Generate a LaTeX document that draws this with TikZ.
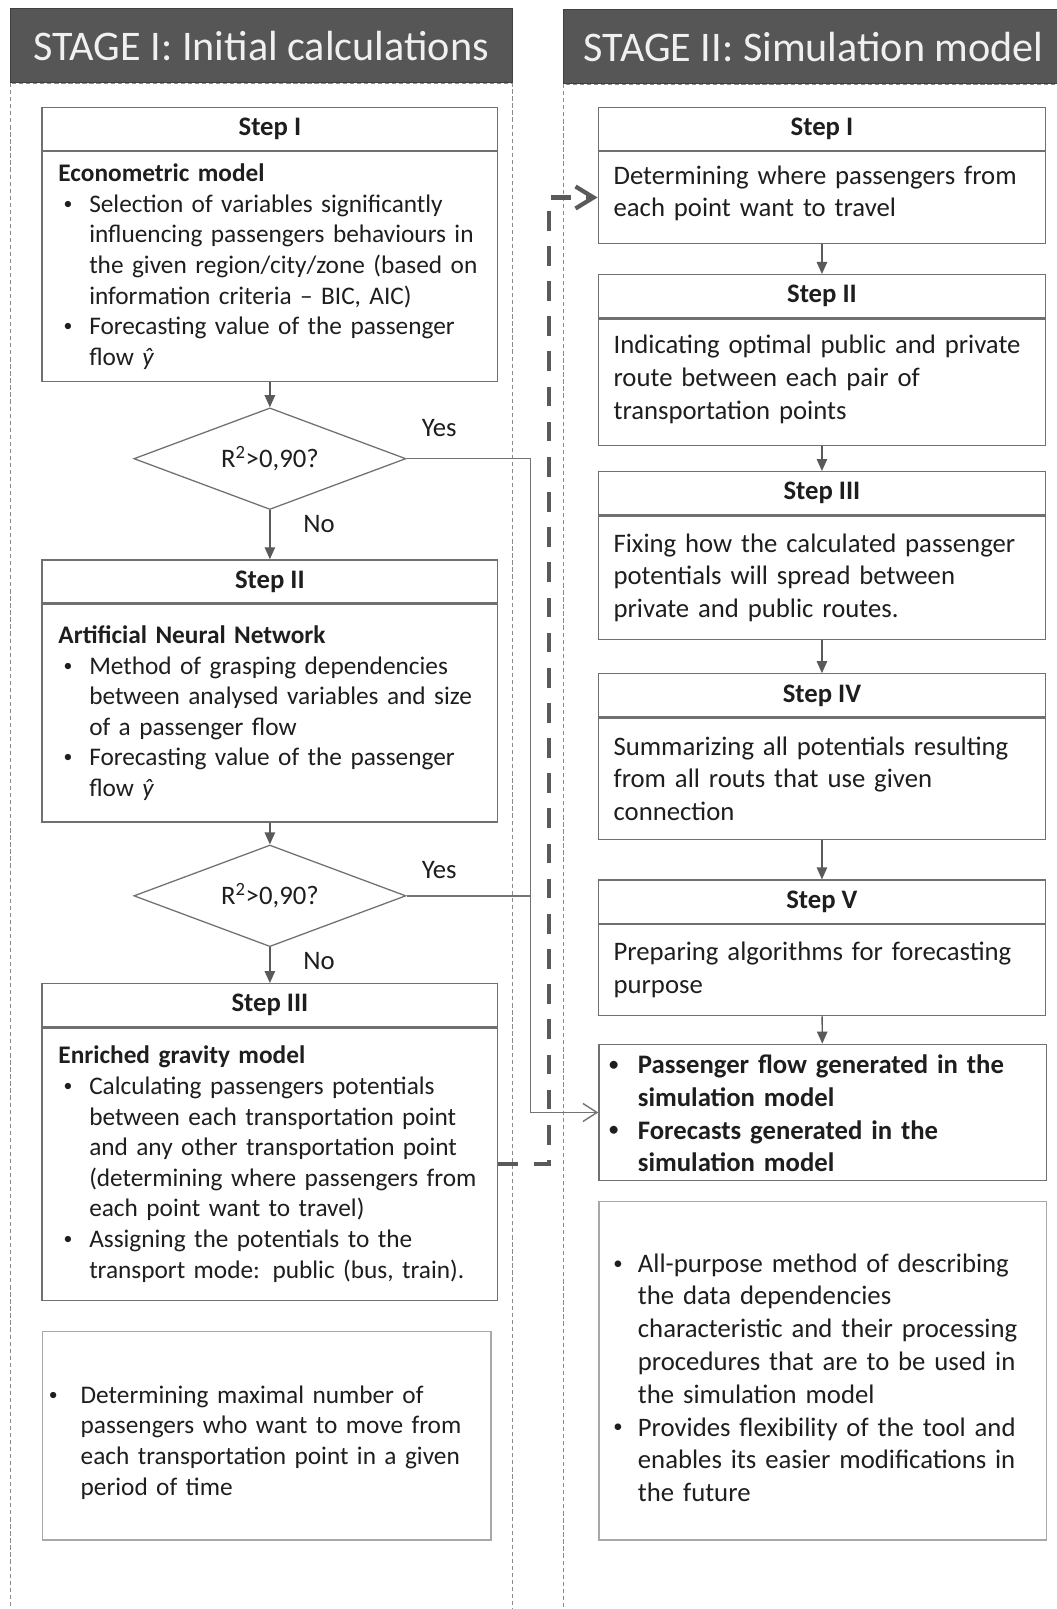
\documentclass[tikz,border=0pt]{standalone}
\usepackage{fontspec}
\setmainfont{Carlito}
\usetikzlibrary{shapes.geometric, positioning, arrows.meta}
\definecolor{headgray}{HTML}{565656}
\definecolor{boxgray}{HTML}{707070}
\definecolor{notegray}{HTML}{A8A8A8}
\definecolor{inkgray}{HTML}{1E1E1E}
\definecolor{arrowgray}{HTML}{5A5A5A}
\definecolor{colgray}{HTML}{8A8A8A}
\newcommand{\lfont}{\fontsize{18}{21.8}\selectfont}
\newcommand{\rfont}{\fontsize{19}{23.3}\selectfont}
\newcommand{\dotmark}{\raisebox{0.12em}{\scalebox{0.7}{\textbullet}}}
\newcommand{\bul}[2][0pt]{\par\hangindent=#2\hangafter=1\noindent\makebox[#2][l]{\hspace*{#1}\dotmark}}
\newcommand{\litem}{\bul[0.13cm]{0.77cm}}
\newcommand{\yhat}{{\itshape ŷ}}
\tikzstyle{stagehead} = [draw=black!75, fill=headgray, text=white!94!black, font=\fontsize{30}{35}\selectfont, minimum height=1.85cm, inner sep=0pt]
\tikzstyle{stagecol} = [draw=colgray, dash pattern=on 3pt off 2pt, line width=0.7pt]
\tikzstyle{steptitle} = [draw=boxgray, line width=0.9pt, fill=white, text=inkgray, font=\fontsize{19}{23}\selectfont\bfseries, minimum height=1.08cm, inner sep=0pt, anchor=north]
\tikzstyle{stepbody} = [draw=boxgray, line width=0.9pt, fill=white, text=inkgray, align=left, inner ysep=0pt]
\tikzstyle{lbody} = [stepbody, font=\lfont, inner xsep=0.41cm, text width=10.57cm]
\tikzstyle{rbody} = [stepbody, font=\rfont, inner xsep=0.385cm, text width=10.416cm]
\tikzstyle{notebox} = [draw=notegray, line width=0.9pt, fill=white, text=inkgray, align=left, inner ysep=0pt, anchor=north west]
\tikzstyle{decision} = [diamond, draw=boxgray, line width=0.9pt, text=inkgray, font=\rfont, aspect=2.7, minimum width=6.8cm, minimum height=2.54cm, inner sep=0pt]
\tikzstyle{lbl} = [text=inkgray, font=\rfont, inner sep=0pt]
\tikzstyle{flowarrow} = [draw=arrowgray, line width=1pt, -{Triangle[length=3mm, width=2.6mm]}]
\tikzstyle{yesline} = [draw=arrowgray!85, line width=1pt]
\tikzstyle{yesarrow} = [yesline, -{Straight Barb[length=3.5mm, width=4.5mm, line width=1pt]}]
\tikzstyle{linkarrow} = [draw=arrowgray, line width=3pt, dash pattern=on 14pt off 11pt, -{Straight Barb[length=4.5mm, width=5.5mm, line width=3pt]}]

\begin{document}
\begin{tikzpicture}[x=0.025655cm, y=-0.025655cm]
\useasboundingbox (0,0) rectangle (1030,1568);
\fill[white] (0,0) rectangle (1030,1568);
% stage columns
\draw[stagecol] (10,81) rectangle (499,1640);
\draw[stagecol] (549,82) rectangle (1070,1640);
\node[stagehead, minimum width=12.545cm] (stageI)  at (254.5,44.5) {STAGE I: Initial calculations};
\node[stagehead, minimum width=12.52cm]  (stageII) at (793,45.5)   {STAGE II: Simulation model};

% stage I
\node[steptitle, minimum width=11.39cm] (lstepI) at (263,104) {Step I};
\node[lbody, minimum height=5.747cm, below=0pt of lstepI] (lbodyI) {\noindent{\bfseries Econometric model}
\litem Selection of variables significantly\newline influencing passengers behaviours in\newline the given region/city/zone (based on\newline information criteria -- BIC, AIC)
\litem Forecasting value of the passenger\newline flow \yhat\par};
\node[decision] (lcheckI) at (263,447) {R\textsuperscript{2}>0,90?};
\node[lbl] (lyesI) at (428,417) {Yes};
\node[lbl] (lnoI)  at (311,511) {No};

\node[steptitle, minimum width=11.39cm] (lstepII) at (263,545) {Step II};
\node[lbody, minimum height=5.439cm, below=0pt of lstepII] (lbodyII) {\noindent{\bfseries Artificial Neural Network}
\litem Method of grasping dependencies\newline between analysed variables and size\newline of a passenger flow
\litem Forecasting value of the passenger\newline flow \yhat\par};
\node[decision] (lcheckII) at (263,873) {R\textsuperscript{2}>0,90?};
\node[lbl] (lyesII) at (428,848) {Yes};
\node[lbl] (lnoII)  at (311,937) {No};

\node[steptitle, minimum width=11.39cm] (lstepIII) at (263,958) {Step III};
\node[lbody, minimum height=6.799cm, below=0pt of lstepIII] (lbodyIII) {\noindent{\bfseries Enriched gravity model}
\litem Calculating passengers potentials\newline between each transportation point\newline and any other transportation point\newline (determining where passengers from\newline each point want to travel)
\litem Assigning the potentials to the\newline transport mode: public (bus, train).\par};

\node[notebox, font=\lfont, inner xsep=0.154cm, text width=10.9cm, minimum height=5.208cm] (lnote) at (41,1297) {\bul{0.795cm}Determining maximal number of\newline passengers who want to move from\newline each transportation point in a given\newline period of time\par};

% stage II
\node[steptitle, minimum width=11.186cm] (rstepI) at (801,104) {Step I};
\node[rbody, minimum height=2.283cm, below=0pt of rstepI] (rbodyI) {\noindent Determining where passengers from\newline each point want to travel\par\vspace{0.2cm}};
\node[steptitle, minimum width=11.186cm] (rstepII) at (801,267) {Step II};
\node[rbody, minimum height=3.156cm, below=0pt of rstepII] (rbodyII) {\noindent Indicating optimal public and private\newline route between each pair of\newline transportation points\par\vspace{0.15cm}};
\node[steptitle, minimum width=11.186cm] (rstepIII) at (801,459) {Step III};
\node[rbody, minimum height=3.079cm, below=0pt of rstepIII] (rbodyIII) {\noindent Fixing how the calculated passenger\newline potentials will spread between\newline private and public routes.};
\node[steptitle, minimum width=11.186cm] (rstepIV) at (801,656) {Step IV};
\node[rbody, minimum height=3.027cm, below=0pt of rstepIV] (rbodyIV) {\noindent Summarizing all potentials resulting\newline from all routs that use given\newline connection};
\node[steptitle, minimum width=11.186cm] (rstepV) at (801,857) {Step V};
\node[rbody, minimum height=2.283cm, below=0pt of rstepV] (rbodyV) {\noindent Preparing algorithms for forecasting\newline purpose};
\node[stepbody, anchor=north west, font=\rfont\bfseries, inner xsep=0.257cm, text width=10.67cm, minimum height=3.412cm] (rresult) at (583,1017) {\vspace*{-0.3cm}\bul{0.718cm}Passenger flow generated in the\newline simulation model
\bul{0.718cm}Forecasts generated in the\newline simulation model\par};
\node[notebox, font=\rfont, inner xsep=0.36cm, text width=10.466cm, minimum height=8.466cm] (rnote) at (583,1170) {\bul{0.616cm}All-purpose method of describing\newline the data dependencies\newline characteristic and their processing\newline procedures that are to be used in\newline the simulation model
\bul{0.616cm}Provides flexibility of the tool and\newline enables its easier modifications in\newline the future\par};

% connectors
\draw[flowarrow] (lbodyI) -- (lcheckI);
\draw[flowarrow] (lcheckI) -- (lstepII);
\draw[flowarrow] (lbodyII) -- (lcheckII);
\draw[flowarrow] (lcheckII) -- (lstepIII);
\draw[flowarrow] (rbodyI) -- (rstepII);
\draw[flowarrow] (rbodyII) -- (rstepIII);
\draw[flowarrow] (rbodyIII) -- (rstepIV);
\draw[flowarrow] (rbodyIV) -- (rstepV);
\draw[flowarrow] (rbodyV) -- (rresult);
\coordinate (yescol) at (517,0);
\coordinate (linkcol) at (535,0);
\draw[yesarrow] (lcheckI.east) -- (lcheckI.east -| yescol) |- (rresult.west);
\draw[yesline]  (lcheckII.east) -- (lcheckII.east -| yescol);
\draw[linkarrow] (lbodyIII.east) -- (lbodyIII.east -| linkcol) |- (rbodyI.west);
\end{tikzpicture}
\end{document}
